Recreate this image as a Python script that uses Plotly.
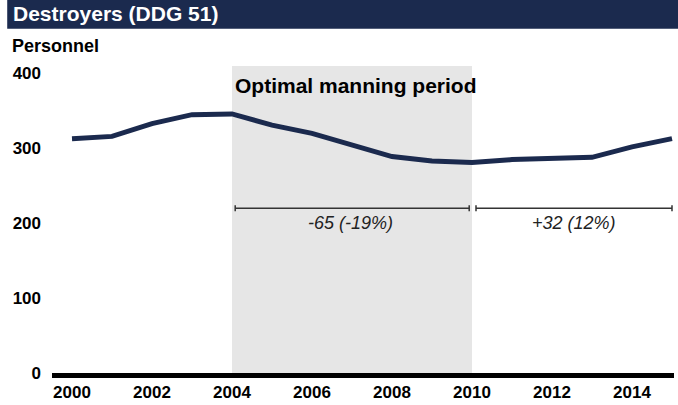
import plotly.graph_objects as go

YEARS = list(range(2000, 2016))
PERSONNEL = [313, 316, 333, 345, 346, 331, 320, 304, 289, 283, 281, 285, 286, 288, 302, 313]
Y_TICKS = [0, 100, 200, 300, 400]
X_TICKS = list(range(2000, 2016, 2))

PERIOD_START, PERIOD_END = 2004, 2010
CHANGE_1 = '-65 (-19%)'
CHANGE_2 = '+32 (12%)'

NAVY = '#1b2a4e'
FONT = 'Liberation Sans, Arial, sans-serif'

fig = go.Figure()

fig.add_trace(go.Scatter(
    x=YEARS, y=PERSONNEL, mode='lines',
    line=dict(color=NAVY, width=5),
    hoverinfo='skip', showlegend=False,
))

# shaded period
fig.add_shape(type='rect', xref='x', yref='paper', x0=PERIOD_START, x1=PERIOD_END, y0=0, y1=1,
              fillcolor='#e6e6e6', line_width=0, layer='below')

# title bar
fig.add_shape(type='rect', xref='paper', yref='paper', x0=-0.072, x1=1.01, y0=1.121, y1=1.215,
              fillcolor=NAVY, line_width=0, layer='above')


def bracket(x0, x1, y, cap=4):
    fig.add_shape(type='line', x0=x0, x1=x1, y0=y, y1=y, line=dict(color='#333333', width=1.5))
    for xx in (x0, x1):
        fig.add_shape(type='line', x0=xx, x1=xx, y0=y - cap, y1=y + cap,
                      line=dict(color='#333333', width=1.5))


bracket(PERIOD_START + 0.08, PERIOD_END - 0.07, 220)
bracket(PERIOD_END + 0.1, 2015, 220)

fig.add_annotation(x=(PERIOD_START + PERIOD_END) / 2 - 0.05, y=200, text=CHANGE_1, showarrow=False,
                   font=dict(family=FONT, size=18, color='#222222', style='italic'))
fig.add_annotation(x=(PERIOD_END + 2015) / 2 + 0.05, y=200, text=CHANGE_2, showarrow=False,
                   font=dict(family=FONT, size=18, color='#222222', style='italic'))

fig.add_annotation(x=PERIOD_START + 0.03, y=384, xanchor='left', text='Optimal manning period',
                   showarrow=False, font=dict(family=FONT, size=21, color='black', weight='bold'))

fig.add_annotation(xref='paper', yref='paper', x=-0.066, y=1.17, xanchor='left', yanchor='middle',
                   text='Destroyers (DDG 51)', showarrow=False,
                   font=dict(family=FONT, size=21, color='white', weight='bold'))
fig.add_annotation(xref='paper', yref='paper', x=-0.068, y=1.065, xanchor='left', yanchor='middle',
                   text='Personnel', showarrow=False,
                   font=dict(family=FONT, size=18, color='black', weight='bold'))

fig.update_xaxes(range=[1999.5, 2015.05], tickvals=X_TICKS, showgrid=False, zeroline=False,
                 showline=True, linecolor='black', linewidth=5, ticks='',
                 tickfont=dict(family=FONT, size=17, color='black', weight='bold'))
fig.update_yaxes(range=[0, 410], tickvals=Y_TICKS, showgrid=False, zeroline=False, ticks='',
                 ticklabelstandoff=10,
                 tickfont=dict(family=FONT, size=17, color='black', weight='bold'))

fig.update_layout(
    width=678, height=405,
    margin=dict(l=52, r=4, t=66, b=32, autoexpand=False),
    plot_bgcolor='white', paper_bgcolor='white',
    showlegend=False,
)

fig.write_html('out.html', config={'displayModeBar': False},
               post_script="document.body.style.margin='0';document.body.style.overflow='hidden';")
